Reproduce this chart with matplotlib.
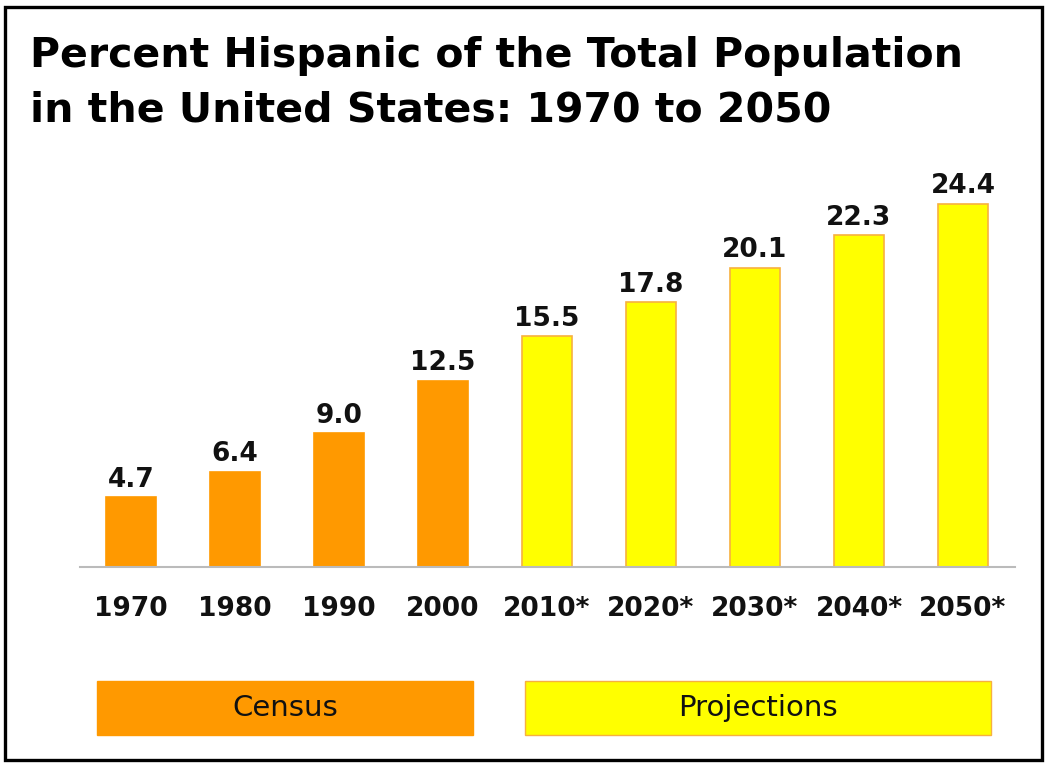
import matplotlib
matplotlib.use("Agg")
import matplotlib.pyplot as plt
from matplotlib.patches import Rectangle

years = ["1970", "1980", "1990", "2000", "2010*", "2020*", "2030*", "2040*", "2050*"]
values = [4.7, 6.4, 9.0, 12.5, 15.5, 17.8, 20.1, 22.3, 24.4]
is_projection = [False, False, False, False, True, True, True, True, True]
title_lines = ["Percent Hispanic of the Total Population",
               "in the United States: 1970 to 2050"]
legend_labels = ["Census", "Projections"]

ORANGE = "#FF9900"
YELLOW = "#FFFF00"
EDGE_Y = "#F7B040"

W, H = 1050, 769
fig = plt.figure(figsize=(W / 100, H / 100), dpi=100)
fig.patch.set_facecolor("white")

def fx(px):
    return px / W

def fy(py):
    return 1 - py / H

ax = fig.add_axes([fx(80), fy(567), fx(1015) - fx(80), fy(180) - fy(567)])
xs = list(range(len(years)))
colors = [YELLOW if p else ORANGE for p in is_projection]
edges = [EDGE_Y if p else ORANGE for p in is_projection]
ax.bar(xs, values, width=0.48, color=colors, edgecolor=edges, linewidth=1.2)
for x, v in zip(xs, values):
    ax.text(x, v + 0.3, f"{v:.1f}", ha="center", va="bottom", fontsize=19,
            fontweight="bold", color="#111111")
ax.set_xlim(-0.49, 8.5)
ax.set_ylim(0, 26)
for s in ["top", "right", "left"]:
    ax.spines[s].set_visible(False)
ax.spines["bottom"].set_color("#BBBBBB")
ax.spines["bottom"].set_linewidth(1.5)
ax.set_yticks([])
ax.set_xticks(xs)
ax.set_xticklabels(years, fontsize=19, fontweight="bold", color="#111111")
ax.tick_params(axis="x", length=0, pad=21)
ax.set_facecolor("none")

for line, base in zip(title_lines, [67, 121]):
    fig.text(fx(30), fy(base), line, ha="left", va="baseline", fontsize=29.5,
             fontweight="bold", color="#000000")

boxes = [(97, 473, ORANGE, ORANGE), (525, 991, YELLOW, EDGE_Y)]
for (x0, x1, fc, ec), lab in zip(boxes, legend_labels):
    fig.patches.append(Rectangle((fx(x0), fy(735)), fx(x1) - fx(x0), fy(681) - fy(735),
                                 transform=fig.transFigure, facecolor=fc, edgecolor=ec,
                                 linewidth=1.0))
    fig.text((fx(x0) + fx(x1)) / 2, (fy(681) + fy(735)) / 2, lab, ha="center",
             va="center", fontsize=21, color="#111111")

fig.patches.append(Rectangle((fx(4.5), fy(760)), fx(1042) - fx(4.5), fy(6.5) - fy(760),
                             transform=fig.transFigure, facecolor="none",
                             edgecolor="black", linewidth=2.4))

fig.savefig("out.png", dpi=100, facecolor="white")
